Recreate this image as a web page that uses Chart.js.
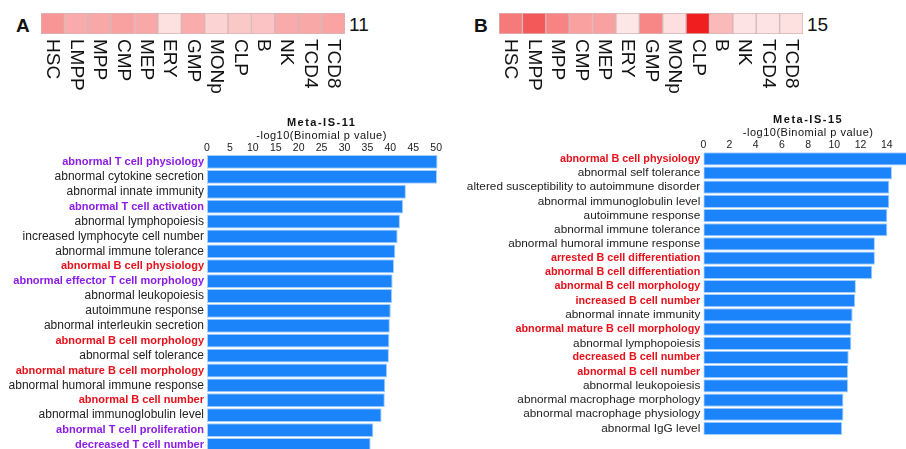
<!DOCTYPE html>
<html>
<head>
<meta charset="utf-8">
<script src="https://cdn.jsdelivr.net/npm/chart.js@4.4.1/dist/chart.umd.min.js"></script>
<style>
  html, body { margin: 0; padding: 0; background: #fff; width: 906px; height: 449px; overflow: hidden; }
  canvas { position: absolute; }
  .txt { position: absolute; font-family: "Liberation Sans", Arial, sans-serif; font-size: 19px; line-height: 19px; color: #111; }
</style>
</head>
<body>
<div class="txt" style="left:16px;top:16px;font-weight:bold">A</div>
<div class="txt" style="left:349px;top:15px">11</div>
<div class="txt" style="left:474px;top:16px;font-weight:bold">B</div>
<div class="txt" style="left:807px;top:15px">15</div>

<canvas id="heatA" width="304" height="82" style="left:41px;top:13px"></canvas>
<canvas id="heatB" width="304" height="82" style="left:499px;top:13px"></canvas>
<canvas id="barA" width="442" height="352" style="left:0px;top:110px"></canvas>
<canvas id="barB" width="451" height="335" style="left:455px;top:110px"></canvas>

<script>
// cell types of the heat strips
const cellTypes = ['HSC', 'LMPP', 'MPP', 'CMP', 'MEP', 'ERY', 'GMP', 'MONp', 'CLP', 'B', 'NK', 'TCD4', 'TCD8'];
// relative expression (0 = white, 1 = full red)
const heatA = [0.46, 0.37, 0.38, 0.41, 0.38, 0.13, 0.36, 0.19, 0.24, 0.26, 0.37, 0.38, 0.40];
const heatB = [0.58, 0.72, 0.54, 0.41, 0.41, 0.11, 0.52, 0.14, 0.98, 0.30, 0.12, 0.12, 0.13];

// Meta-IS-11
const termsA = [
  'abnormal T cell physiology', 'abnormal cytokine secretion', 'abnormal innate immunity',
  'abnormal T cell activation', 'abnormal lymphopoiesis', 'increased lymphocyte cell number',
  'abnormal immune tolerance', 'abnormal B cell physiology', 'abnormal effector T cell morphology',
  'abnormal leukopoiesis', 'autoimmune response', 'abnormal interleukin secretion',
  'abnormal B cell morphology', 'abnormal self tolerance', 'abnormal mature B cell morphology',
  'abnormal humoral immune response', 'abnormal B cell number', 'abnormal immunoglobulin level',
  'abnormal T cell proliferation', 'decreased T cell number'
];
const valuesA = [50.3, 50.2, 43.4, 42.8, 42.1, 41.6, 41.1, 40.8, 40.5, 40.4,
                 40.1, 39.9, 39.8, 39.7, 39.3, 38.9, 38.8, 38.1, 36.3, 35.7];
// T = T cell term (purple), B = B cell term (red), '' = other
const kindsA = ['T', '', '', 'T', '', '', '', 'B', 'T', '',
                '', '', 'B', '', 'B', '', 'B', '', 'T', 'T'];

// Meta-IS-15
const termsB = [
  'abnormal B cell physiology', 'abnormal self tolerance', 'altered susceptibility to autoimmune disorder',
  'abnormal immunoglobulin level', 'autoimmune response', 'abnormal immune tolerance',
  'abnormal humoral immune response', 'arrested B cell differentiation', 'abnormal B cell differentiation',
  'abnormal B cell morphology', 'increased B cell number', 'abnormal innate immunity',
  'abnormal mature B cell morphology', 'abnormal lymphopoiesis', 'decreased B cell number',
  'abnormal B cell number', 'abnormal leukopoiesis', 'abnormal macrophage morphology',
  'abnormal macrophage physiology', 'abnormal IgG level'
];
const valuesB = [16.2, 14.4, 14.2, 14.2, 14.05, 14.05, 13.1, 13.1, 12.9, 11.65,
                 11.6, 11.4, 11.3, 11.3, 11.1, 11.05, 11.05, 10.7, 10.7, 10.6];
const kindsB = ['B', '', '', '', '', '', '', 'B', 'B', 'B',
                'B', '', 'B', '', 'B', 'B', '', '', '', ''];

const FONT = '"Liberation Sans", Arial, sans-serif';
const kindColors = { T: '#8a1be8', B: '#e8101a', '': '#222' };

function heatColor(v) {
  const r = Math.round(255 - v * 15);
  const gb = Math.round(255 - v * 230);
  return `rgb(${r},${gb},${gb})`;
}

// rotated cell names under the strip
const verticalLabels = {
  id: 'verticalLabels',
  afterDraw(chart) {
    const { ctx, chartArea, scales } = chart;
    ctx.save();
    ctx.font = '19px ' + FONT;
    ctx.fillStyle = '#111';
    ctx.textAlign = 'left';
    ctx.textBaseline = 'middle';
    chart.data.labels.forEach((lab, i) => {
      ctx.save();
      ctx.translate(scales.x.getPixelForValue(i), chartArea.bottom + 5);
      ctx.rotate(Math.PI / 2);
      ctx.fillText(lab, 0, 0);
      ctx.restore();
    });
    ctx.restore();
  }
};

function renderHeat(id, values) {
  new Chart(document.getElementById(id), {
    type: 'bar',
    data: {
      labels: cellTypes,
      datasets: [{
        data: cellTypes.map(() => 1),
        backgroundColor: values.map(heatColor),
        borderColor: '#d6b6b6',
        borderWidth: 1,
        borderSkipped: false,
        barPercentage: 1,
        categoryPercentage: 1
      }]
    },
    options: {
      responsive: false,
      animation: false,
      layout: { padding: { bottom: 61 } },
      plugins: { legend: { display: false }, tooltip: { enabled: false } },
      scales: {
        x: { display: false },
        y: { display: false, min: 0, max: 1 }
      }
    },
    plugins: [verticalLabels]
  });
}

// panel title + axis title centred over the axis
const panelTitles = {
  id: 'panelTitles',
  afterDraw(chart, args, opts) {
    const { ctx, chartArea, scales } = chart;
    const x = scales.x.getPixelForValue(opts.center);
    ctx.save();
    ctx.textAlign = 'center';
    ctx.textBaseline = 'middle';
    ctx.fillStyle = '#111';
    ctx.letterSpacing = '1.5px';
    ctx.font = 'bold 11px ' + FONT;
    ctx.fillText(opts.title, x, chartArea.top - 32);
    ctx.letterSpacing = '0.5px';
    ctx.font = '11px ' + FONT;
    ctx.fillText('-log10(Binomial p value)', x, chartArea.top - 19);
    ctx.restore();
  }
};

function renderBars(id, terms, values, kinds, cfg) {
  new Chart(document.getElementById(id), {
    type: 'bar',
    data: {
      labels: terms,
      datasets: [{
        label: cfg.title,
        data: values,
        backgroundColor: '#1b84fb',
        borderColor: '#a8d0fc',
        borderWidth: 1,
        borderSkipped: false,
        barPercentage: 0.93,
        categoryPercentage: 1
      }]
    },
    options: {
      indexAxis: 'y',
      responsive: false,
      animation: false,
      layout: { padding: 0 },
      plugins: {
        legend: { display: false },
        tooltip: { enabled: false },
        panelTitles: { title: cfg.title, center: cfg.center }
      },
      scales: {
        x: {
          position: 'top',
          min: 0,
          max: cfg.max,
          grid: { display: false, drawTicks: false },
          border: { display: false },
          ticks: {
            padding: 0,
            maxRotation: 0,
            autoSkip: false,
            color: '#222',
            font: { family: FONT, size: 10.5 }
          },
          afterBuildTicks(scale) {
            const ticks = [];
            for (let v = 0; v <= cfg.max + 1e-9; v += cfg.step) ticks.push({ value: v });
            scale.ticks = ticks;
          },
          afterFit(scale) { scale.height = cfg.axisHeight; }
        },
        y: {
          grid: { display: false, drawTicks: false },
          border: { display: false },
          ticks: {
            autoSkip: false,
            padding: 3,
            color: c => kindColors[kinds[c.index]],
            font: c => kinds[c.index]
              ? { family: FONT, size: cfg.boldSize, weight: 'bold' }
              : { family: FONT, size: cfg.size }
          },
          afterFit(scale) { scale.width = cfg.labelWidth; }
        }
      }
    },
    plugins: [panelTitles]
  });
}

renderHeat('heatA', heatA);
renderHeat('heatB', heatB);
renderBars('barA', termsA, valuesA, kindsA,
  { title: 'Meta-IS-11', max: 51, step: 5, center: 25, axisHeight: 44.5, labelWidth: 207, size: 12, boldSize: 11 });
renderBars('barB', termsB, valuesB, kindsB,
  { title: 'Meta-IS-15', max: 15.47, step: 2, center: 8, axisHeight: 41.7, labelWidth: 248.3, size: 11.8, boldSize: 10.8 });
</script>
</body>
</html>
